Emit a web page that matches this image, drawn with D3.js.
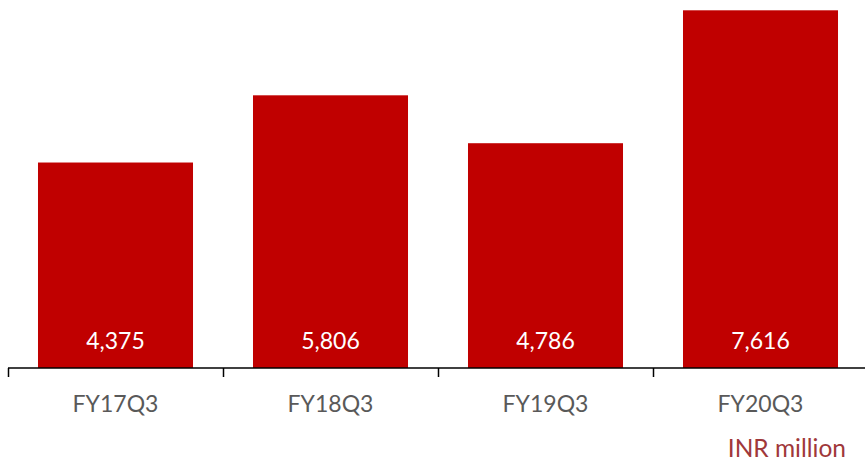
<!DOCTYPE html>
<html>
<head>
<meta charset="utf-8">
<script src="https://cdn.jsdelivr.net/npm/d3@7"></script>
<style>
  html, body { margin: 0; padding: 0; background: #fff; }
  svg { display: block; }
</style>
</head>
<body>
<svg id="chart" width="865" height="461"></svg>
<script>
// Quarterly figures, INR million
const categories = ["FY17Q3", "FY18Q3", "FY19Q3", "FY20Q3"];
const values = [4375, 5806, 4786, 7616];
const unitLabel = "INR million";

const svg = d3.select("#chart");
const fontFamily = "Lato, 'Open Sans', sans-serif";

const x = d3.scaleBand()
  .domain(categories)
  .range([8, 868])
  .paddingInner(0.279)
  .paddingOuter(0.1395);

const y = d3.scaleLinear()
  .domain([0, 7616])
  .range([368, 10.3]);

const data = categories.map((c, i) => ({ cat: c, val: values[i] }));

// Bars
svg.append("g")
  .selectAll("rect")
  .data(data)
  .join("rect")
  .attr("x", d => x(d.cat))
  .attr("y", d => y(d.val))
  .attr("width", x.bandwidth())
  .attr("height", d => y(0) - y(d.val))
  .attr("fill", "#c00000");

// Value labels inside the bars, near the base
svg.append("g")
  .selectAll("text")
  .data(data)
  .join("text")
  .attr("x", d => x(d.cat) + x.bandwidth() / 2)
  .attr("y", 348.5)
  .attr("text-anchor", "middle")
  .attr("fill", "#ffffff")
  .style("font-family", fontFamily)
  .style("font-size", "23px")
  .text(d => d3.format(",")(d.val));

// Category axis: ticks sit on the band boundaries
const axisG = svg.append("g");
axisG.append("line")
  .attr("x1", 8).attr("x2", 865)
  .attr("y1", y(0)).attr("y2", y(0))
  .attr("stroke", "#000").attr("stroke-width", 1.5);

const tickPositions = categories.map(c => x(c) - x.step() * x.paddingInner() / 2);
axisG.selectAll("line.tick")
  .data(tickPositions)
  .join("line")
  .attr("class", "tick")
  .attr("x1", d => Math.round(d) + 0.5).attr("x2", d => Math.round(d) + 0.5)
  .attr("y1", y(0)).attr("y2", y(0) + 9)
  .attr("stroke", "#000").attr("stroke-width", 1.5);

axisG.selectAll("text")
  .data(categories)
  .join("text")
  .attr("x", d => x(d) + x.bandwidth() / 2)
  .attr("y", 411.5)
  .attr("text-anchor", "middle")
  .attr("fill", "#595959")
  .style("font-family", fontFamily)
  .style("font-size", "23px")
  .text(d => d);

// Unit note
svg.append("text")
  .attr("x", 846)
  .attr("y", 456.5)
  .attr("text-anchor", "end")
  .attr("fill", "#a0383a")
  .style("font-family", fontFamily)
  .style("font-size", "24.5px")
  .text(unitLabel);
</script>
</body>
</html>
